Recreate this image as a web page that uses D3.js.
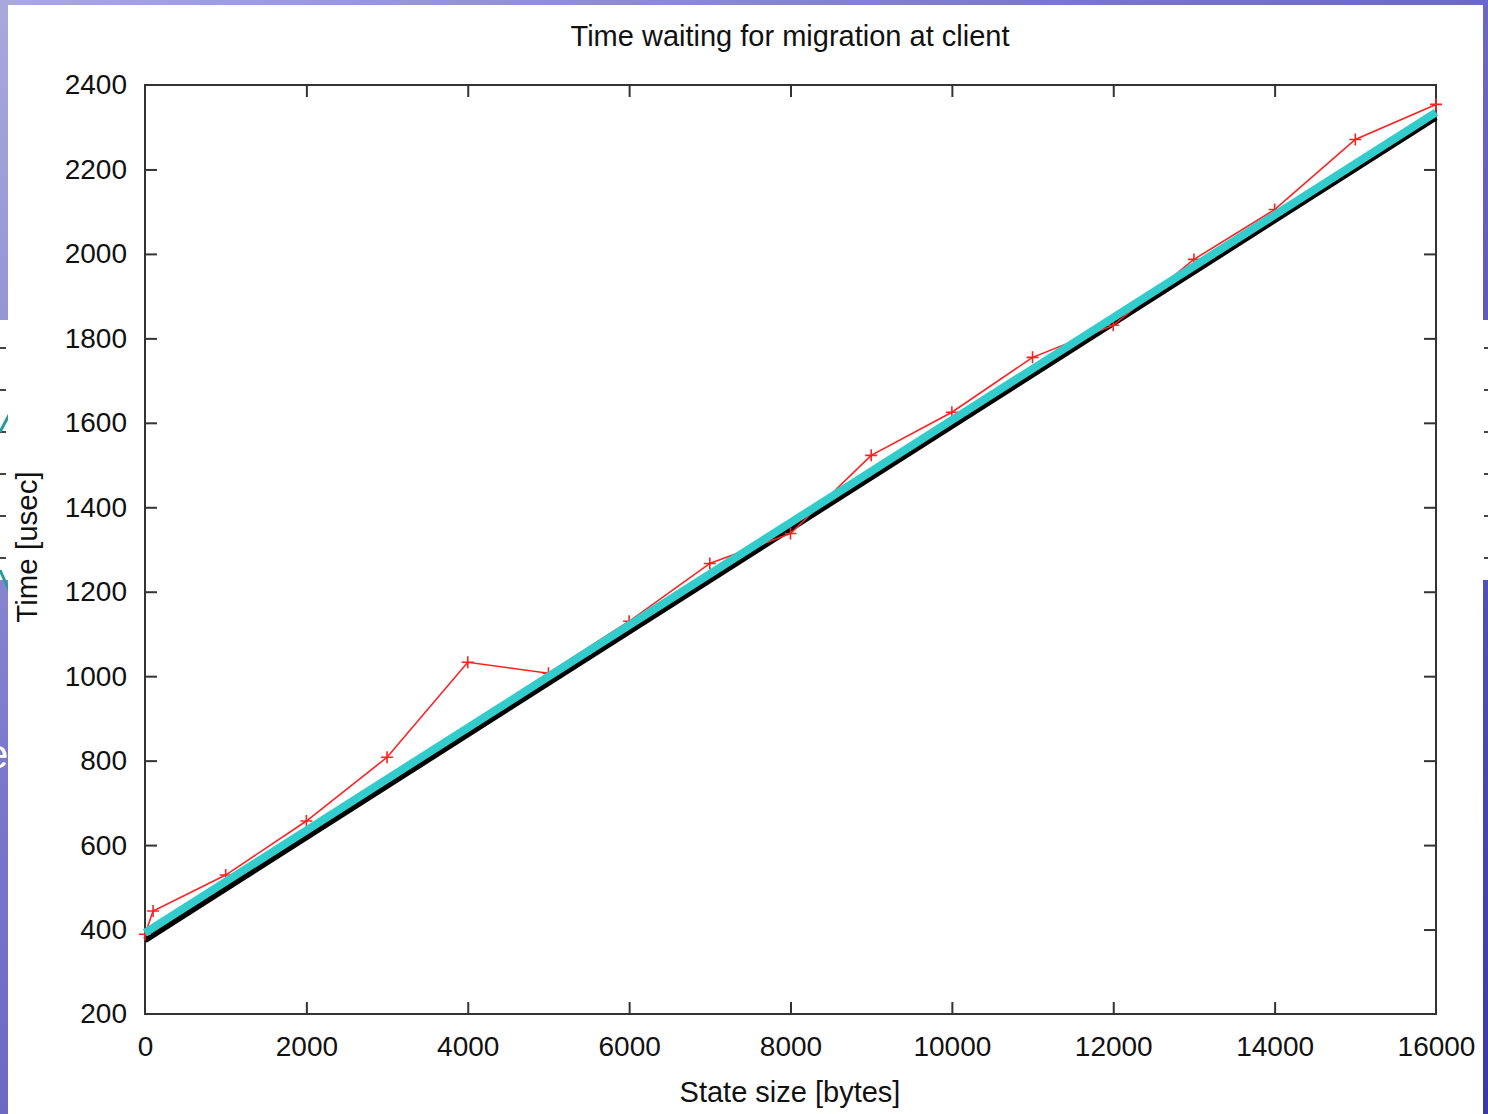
<!DOCTYPE html>
<html>
<head>
<meta charset="utf-8">
<script src="https://cdn.jsdelivr.net/npm/d3@7"></script>
<style>
  html, body { margin: 0; padding: 0; overflow: hidden; }
  svg { display: block; font-family: "Liberation Sans", Arial, sans-serif; }
</style>
</head>
<body>
<div id="chart"></div>
<script>
// measured series
var sizes = [0, 100, 1000, 2000, 3000, 4000, 5000, 6000, 7000, 8000, 9000, 10000, 11000, 12000, 13000, 14000, 15000, 16000];
var times = [389, 444, 529, 657, 808, 1033, 1007, 1130, 1267, 1338, 1523, 1625, 1755, 1831, 1987, 2105, 2271, 2354];
// two fitted lines (end points)
var fitX = [0, 16000];
var fitTeal = [392, 2335];
var fitBlack = [375, 2323];
var xTicks = [0, 2000, 4000, 6000, 8000, 10000, 12000, 14000, 16000];
var yTicks = [200, 400, 600, 800, 1000, 1200, 1400, 1600, 1800, 2000, 2200, 2400];

var W = 1488, H = 1114;
var svg = d3.select("#chart").append("svg").attr("width", W).attr("height", H);

// slide background
var defs = svg.append("defs");
var grad = defs.append("linearGradient").attr("id", "bg").attr("x1", 0).attr("y1", 0).attr("x2", 1).attr("y2", 1);
grad.append("stop").attr("offset", "0%").attr("stop-color", "#a9a9dc");
grad.append("stop").attr("offset", "35%").attr("stop-color", "#7a78cc");
grad.append("stop").attr("offset", "100%").attr("stop-color", "#3838aa");
svg.append("rect").attr("width", W).attr("height", H).attr("fill", "url(#bg)");

// bits of the slide behind the picture
svg.append("rect").attr("x", 0).attr("y", 320).attr("width", W).attr("height", 260).attr("fill", "#ffffff");
[348, 390, 432, 474, 516, 558].forEach(function (yy) {
    svg.append("line").attr("x1", 1484).attr("x2", 1488).attr("y1", yy).attr("y2", yy).attr("stroke", "#444").attr("stroke-width", 2);
    svg.append("line").attr("x1", 0).attr("x2", 6).attr("y1", yy).attr("y2", yy).attr("stroke", "#444").attr("stroke-width", 2);
});
svg.append("path").attr("d", "M9,415 L0,432 M9,590 L0,570").attr("stroke", "#2a9a9a").attr("stroke-width", 3).attr("fill", "none");
svg.append("text").attr("x", -14).attr("y", 768).attr("fill", "#fff").attr("font-size", 40).text("e");

// the picture
svg.append("rect").attr("x", 8).attr("y", 5).attr("width", 1475).attr("height", H - 5).attr("fill", "#ffffff");

var pLeft = 145, pRight = 1436, pTop = 85, pBottom = 1014;
var x = d3.scaleLinear().domain([0, 16000]).range([pLeft, pRight]);
var y = d3.scaleLinear().domain([200, 2400]).range([pBottom, pTop]);

var axisColor = "#333";
var tickLen = 12;
var fs = 28;

var gx = svg.append("g").attr("transform", "translate(0," + pBottom + ")")
    .call(d3.axisBottom(x).tickValues(xTicks).tickSize(-tickLen).tickPadding(tickLen + 10).tickFormat(d3.format("d")));
var gxt = svg.append("g").attr("transform", "translate(0," + pTop + ")")
    .call(d3.axisTop(x).tickValues(xTicks).tickSize(-tickLen).tickFormat(""));
var gy = svg.append("g").attr("transform", "translate(" + pLeft + ",0)")
    .call(d3.axisLeft(y).tickValues(yTicks).tickSize(-tickLen).tickPadding(tickLen + 6).tickFormat(d3.format("d")));
var gyr = svg.append("g").attr("transform", "translate(" + pRight + ",0)")
    .call(d3.axisRight(y).tickValues(yTicks).tickSize(-tickLen).tickFormat(""));

[gx, gxt, gy, gyr].forEach(function (g) {
    g.select(".domain").remove();
    g.selectAll(".tick line").attr("stroke", axisColor).attr("stroke-width", 2);
    g.selectAll(".tick text").attr("fill", "#111").attr("font-size", fs).attr("font-family", "Liberation Sans, Arial, sans-serif");
});
// drop end ticks that coincide with the frame corners
[gx, gxt].forEach(function (g) {
    g.selectAll(".tick").filter(function (d) { return d === 0 || d === 16000; }).select("line").remove();
});
[gy, gyr].forEach(function (g) {
    g.selectAll(".tick").filter(function (d) { return d === 200 || d === 2400; }).select("line").remove();
});

svg.append("rect").attr("x", pLeft).attr("y", pTop).attr("width", pRight - pLeft).attr("height", pBottom - pTop)
    .attr("fill", "none").attr("stroke", axisColor).attr("stroke-width", 2);

// fitted lines and data
var xyLine = d3.line().x(function (d) { return x(d[0]); }).y(function (d) { return y(d[1]); });
svg.append("path").datum(d3.zip(fitX, fitBlack)).attr("d", xyLine)
    .attr("stroke", "#000").attr("stroke-width", 6).attr("fill", "none");

var pts = d3.zip(sizes, times);
svg.append("path").datum(pts).attr("d", xyLine)
    .attr("stroke", "#ff2020").attr("stroke-width", 1.6).attr("fill", "none");
svg.append("g").selectAll("path").data(pts).enter().append("path")
    .attr("d", function (d) {
        var cx = x(d[0]), cy = y(d[1]), r = 6;
        return "M" + (cx - r) + "," + cy + "H" + (cx + r) + "M" + cx + "," + (cy - r) + "V" + (cy + r);
    })
    .attr("stroke", "#ff2020").attr("stroke-width", 1.6);

svg.append("path").datum(d3.zip(fitX, fitTeal)).attr("d", xyLine)
    .attr("stroke", "#33cccc").attr("stroke-width", 8).attr("fill", "none");

// titles
svg.append("text").attr("x", 790).attr("y", 46).attr("text-anchor", "middle")
    .attr("font-size", 29).attr("fill", "#111").text("Time waiting for migration at client");
svg.append("text").attr("x", 790).attr("y", 1102).attr("text-anchor", "middle")
    .attr("font-size", 29).attr("fill", "#111").text("State size [bytes]");
svg.append("text").attr("transform", "translate(37,547) rotate(-90)").attr("text-anchor", "middle")
    .attr("font-size", 29.5).attr("fill", "#111").text("Time [usec]");
</script>
</body>
</html>
